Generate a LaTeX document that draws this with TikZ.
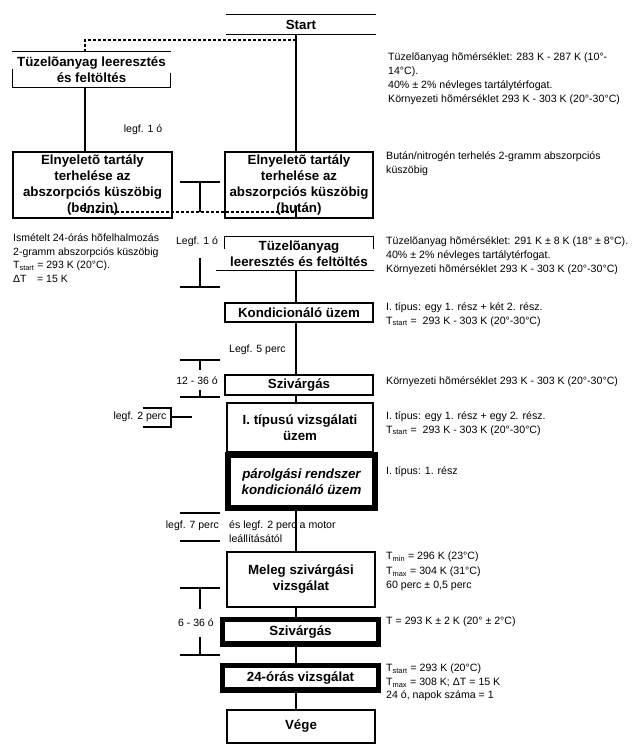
\documentclass[tikz,border=0pt]{standalone}
\usepackage{fontspec}
\setmainfont{Liberation Sans}
\usetikzlibrary{calc}
\begin{document}
\begin{tikzpicture}[x=1pt,y=-1pt,
  ln/.style={line width=1.2pt},
  dsh/.style={line width=1.2pt, dash pattern=on 3pt off 2pt},
  bx/.style={draw, line width=1.2pt, minimum width=148pt, inner sep=0pt, align=center, font=\fontsize{13.3}{16}\selectfont\bfseries},
  nobx/.style={bx, draw=none},
  tbx/.style={bx, line width=5.5pt},
  ann/.style={anchor=north west, align=left, inner sep=0pt, font=\fontsize{10.6}{14}\selectfont},
  lab/.style={inner sep=0pt, font=\fontsize{10.5}{12}\selectfont}
]
\useasboundingbox (0,0) rectangle (644,747);
% helper columns
\coordinate (lcol) at (85,0);
\coordinate (mcol) at (296,0);
\coordinate (bcol) at (200,0);
\coordinate (bl) at (180,0);
\coordinate (br) at (220,0);

% ---- boxes ----
\node[nobx, minimum height=19pt] (start) at (301,24.5) {Start};
\draw[ln] (start.north west) -- (start.north east);
\draw[ln] (start.south west) -- (start.south east);

\node[nobx, minimum width=157pt, minimum height=35pt] (tuzL) at (91.5,69.5) {Tüzelõanyag leeresztés\\és feltöltés};
\draw[ln] (tuzL.north west) -- (tuzL.north east);
\draw[ln] (tuzL.south west) -- (tuzL.south east);
\draw[ln] ($(tuzL.south west)+(0,-19)$) -- (tuzL.south west);
\draw[ln] ($(tuzL.south east)+(0,-15)$) -- (tuzL.south east);

\node[bx, minimum width=159pt, minimum height=66pt] (elnyL) at (92.5,185) {Elnyeletõ tartály\\terhelése az\\abszorpciós küszöbig\\(benzin)};
\node[bx, minimum height=66pt] (elnyR) at (299,185) {Elnyeletõ tartály\\terhelése az\\abszorpciós küszöbig\\(bután)};

\node[nobx, minimum height=33pt] (tuzM) at (299,253.5) {Tüzelõanyag\\leeresztés és feltöltés};
\draw[ln] (tuzM.north west) -- (tuzM.north east);
\draw[ln] (tuzM.north west) -- ++(0,13);
\draw[ln] (tuzM.north east) -- ++(0,13);
\draw[ln] ($(tuzM.south west)+(-8,0)$) -- (tuzM.south east);

\node[bx, minimum height=19pt] (kond) at (299,312.5) {Kondicionáló üzem};
\node[bx, minimum height=20pt] (sziv1) at (299,385) {Szivárgás};
\node[bx, minimum width=146pt, minimum height=49pt] (tipus) at (300,427.5) {I. típusú vizsgálati\\üzem};
\node[tbx, minimum width=147pt, minimum height=53pt, font=\fontsize{13.3}{16}\selectfont\bfseries\itshape] (parolg) at (301.5,481.5) {párolgási rendszer\\kondicionáló üzem};
\node[bx, minimum height=55pt] (meleg) at (301,579.5) {Meleg szivárgási\\vizsgálat};
\node[tbx, minimum width=156pt, minimum height=24.5pt] (sziv2) at (300.5,631.75) {Szivárgás};
\node[tbx, minimum width=156pt, minimum height=24.5pt] (h24) at (300.5,677.75) {24-órás vizsgálat};
\node[bx, minimum height=33pt] (vege) at (301,726.5) {Vége};

% ---- connectors ----
\draw[ln] (mcol |- start.south) -- (mcol |- elnyR.north);
\draw[ln] (lcol |- tuzL.south) -- (lcol |- elnyL.north);
\coordinate (dy1) at (0,40);
\draw[dsh] (mcol |- dy1) -- (lcol |- dy1) -- (lcol |- tuzL.north);
\coordinate (dy2) at (0,212);
\coordinate (dy2t) at (0,203);
\coordinate (dy2u) at (0,206);
\draw[dsh] (lcol |- dy2t) -- (lcol |- dy2) -- (mcol |- dy2);
\draw[ln] (mcol |- dy2u) -- (mcol |- elnyR.south);
\draw[ln] (mcol |- tuzM.south) -- (mcol |- kond.north);
\draw[ln] (mcol |- kond.south) -- (mcol |- sziv1.north);
\draw[ln] (mcol |- sziv1.south) -- (mcol |- tipus.north);
\draw[ln] (mcol |- parolg.south) -- (mcol |- meleg.north);
\draw[ln] (mcol |- meleg.south) -- (mcol |- sziv2.north);
\draw[ln] (mcol |- sziv2.south) -- (mcol |- h24.north);
\draw[ln] (mcol |- h24.south) -- (mcol |- vege.north);

% ---- brackets ----
\coordinate (t1) at (0,182);
\draw[ln] (bl |- t1) -- (br |- t1);
\draw[ln] (bcol |- t1) -- (bcol |- dy2);

\coordinate (t2a) at (0,258);
\coordinate (t2b) at (0,287);
\draw[ln] (bcol |- t2a) -- (bcol |- t2b);
\draw[ln] (bl |- t2b) -- (br |- t2b);

\coordinate (b3a) at (0,360);
\coordinate (b3b) at (0,370);
\coordinate (b3c) at (0,390);
\coordinate (b3d) at (0,397);
\draw[ln] (bl |- b3a) -- (br |- b3a);
\draw[ln] (bcol |- b3a) -- (bcol |- b3b);
\draw[ln] (bcol |- b3c) -- (bcol |- b3d);
\draw[ln] (bl |- b3d) -- (br |- b3d);

\coordinate (p1) at (143,408);
\coordinate (p2) at (171,408);
\coordinate (p3) at (171,427);
\coordinate (p4) at (143,427);
\coordinate (p5) at (171,417);
\coordinate (p6) at (192,417);
\draw[ln] (p1) -- (p2) -- (p3) -- (p4);
\draw[ln] (p5) -- (p6);

\coordinate (b5a) at (0,513);
\coordinate (b5b) at (0,541);
\draw[ln] (bl |- b5a) -- (br |- b5a);
\draw[ln] (bl |- b5b) -- (br |- b5b);

\coordinate (b6a) at (0,588);
\coordinate (b6b) at (0,609);
\coordinate (b6c) at (0,637);
\coordinate (b6d) at (0,655);
\draw[ln] (bl |- b6a) -- (br |- b6a);
\draw[ln] (bcol |- b6a) -- (bcol |- b6b);
\draw[ln] (bcol |- b6c) -- (bcol |- b6d);
\draw[ln] (bl |- b6d) -- (br |- b6d);

% ---- labels ----
\node[lab] (l1) at (143,130) {legf. 1 ó};
\node[lab] (l2) at (197,242) {Legf. 1 ó};
\node[lab, anchor=west] (l3) at (229,350) {Legf. 5 perc};
\node[lab] (l4) at (197,381) {12 - 36 ó};
\node[lab] (l5) at (140,417) {legf. 2 perc};
\node[lab, anchor=east] (l6) at (219,526) {legf. 7 perc};
\node[ann] (l7) at (229,520) {és legf. 2 perc a motor\\leállításától};
\node[lab] (l8) at (196,623) {6 - 36 ó};
\node[ann, font=\fontsize{10.5}{13.4}\selectfont] (ism) at (13,234) {Ismételt 24-órás hõfelhalmozás\\2-gramm abszorpciós küszöbig\\T\textsubscript{start} = 293 K (20°C).\\ΔT\quad = 15 K};

% ---- annotations ----
\node[ann] (a1) at (388,52) {Tüzelõanyag hõmérséklet: 283 K - 287 K (10°-\\14°C).\\40\% ± 2\% névleges tartálytérfogat.\\Környezeti hõmérséklet 293 K - 303 K (20°-30°C)};
\node[ann] (a2) at (386,151) {Bután/nitrogén terhelés 2-gramm abszorpciós\\küszöbig};
\node[ann] (a3) at (386,236) {Tüzelõanyag hõmérséklet: 291 K ± 8 K (18° ± 8°C).\\40\% ± 2\% névleges tartálytérfogat.\\Környezeti hõmérséklet 293 K - 303 K (20°-30°C)};
\node[ann] (a4) at (386,302) {I. típus: egy 1. rész + két 2. rész.\\T\textsubscript{start} =\ \ 293 K - 303 K (20°-30°C)};
\node[ann] (a5) at (386,376) {Környezeti hõmérséklet 293 K - 303 K (20°-30°C)};
\node[ann] (a6) at (386,411) {I. típus: egy 1. rész + egy 2. rész.\\T\textsubscript{start} =\ \ 293 K - 303 K (20°-30°C)};
\node[ann] (a7) at (386,466) {I. típus: 1. rész};
\node[ann, font=\fontsize{10.6}{14.5}\selectfont] (a8) at (386,552) {T\textsubscript{min} = 296 K (23°C)\\T\textsubscript{max} = 304 K (31°C)\\60 perc ± 0,5 perc};
\node[ann] (a9) at (386,617) {T = 293 K ± 2 K (20° ± 2°C)};
\node[ann, font=\fontsize{10.6}{13.5}\selectfont] (a10) at (386,664) {T\textsubscript{start} = 293 K (20°C)\\T\textsubscript{max} = 308 K; ΔT = 15 K\\24 ó, napok száma = 1};
\end{tikzpicture}
\end{document}
